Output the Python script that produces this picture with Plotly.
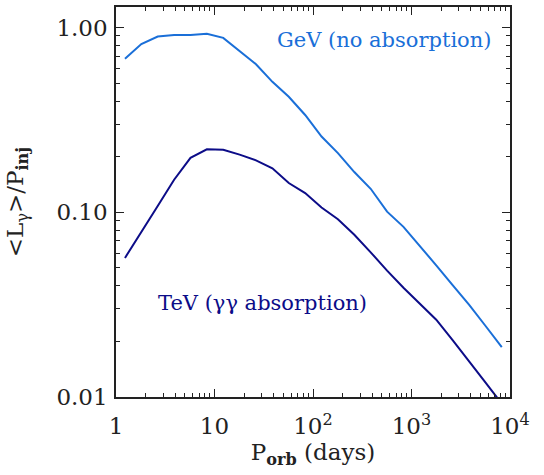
import plotly.graph_objects as go

# Orbital period grid (days)
p_orb = [1.233, 1.808, 2.652, 3.890, 5.705, 8.367, 12.27, 17.99, 26.39, 38.71,
         56.77, 83.27, 122.1, 179.1, 262.7, 385.3, 565.1, 828.8, 1215.6, 1783.0,
         2615.0, 3835.0, 5625.0, 8250.0]

# Mean luminosity over injected power
gev_no_abs = [0.678, 0.813, 0.894, 0.912, 0.912, 0.924, 0.879, 0.743, 0.633, 0.508,
              0.422, 0.336, 0.257, 0.209, 0.165, 0.134, 0.1007, 0.0834, 0.0659, 0.0516,
              0.0403, 0.0316, 0.0243, 0.0186]
tev_gg_abs = [0.0566, 0.0776, 0.108, 0.150, 0.197, 0.219, 0.218, 0.205, 0.191, 0.173,
              0.144, 0.127, 0.106, 0.0916, 0.0755, 0.0607, 0.0483, 0.0390, 0.0320, 0.0262,
              0.0203, 0.0157, 0.0120, 0.0092]

x_tickvals = [1, 10, 100, 1000, 10000]
x_ticktext = ["1", "10", "10<sup>2</sup>", "10<sup>3</sup>", "10<sup>4</sup>"]
y_tickvals = [0.01, 0.1, 1.0]
y_ticktext = ["0.01", "0.10", "1.00"]

GEV_COLOR = "#1a6fd8"
TEV_COLOR = "#0c0c88"
AXIS_COLOR = "#222222"
FONT = "DejaVu Serif, Liberation Serif, serif"

fig = go.Figure()
fig.add_trace(go.Scatter(x=p_orb, y=gev_no_abs, mode="lines",
                         line=dict(color=GEV_COLOR, width=2), showlegend=False))
fig.add_trace(go.Scatter(x=p_orb, y=tev_gg_abs, mode="lines",
                         line=dict(color=TEV_COLOR, width=2), showlegend=False))

def minor_vals(lo_exp, hi_exp):
    return [m * 10 ** e for e in range(lo_exp, hi_exp) for m in range(2, 10)]

axis_common = dict(
    showline=True, linecolor=AXIS_COLOR, linewidth=1.5, mirror="allticks",
    ticks="inside", ticklen=8, tickwidth=1.2, tickcolor=AXIS_COLOR,
    showgrid=False, zeroline=False,
    tickfont=dict(family=FONT, size=23, color=AXIS_COLOR),
)

fig.update_layout(
    width=544, height=475,
    margin=dict(l=116, r=34, t=5, b=78),
    paper_bgcolor="white", plot_bgcolor="white",
    xaxis=dict(type="log", range=[0, 4],
               tickvals=x_tickvals, ticktext=x_ticktext, ticklabelstandoff=8,
               minor=dict(ticks="inside", ticklen=4, tickwidth=1, tickcolor=AXIS_COLOR,
                          tickvals=minor_vals(0, 4), showgrid=False),
               title=dict(text="P<sub><b>orb</b></sub> (days)",
                          font=dict(family=FONT, size=23, color=AXIS_COLOR), standoff=4),
               **axis_common),
    yaxis=dict(type="log", range=[-2, 0.111],
               tickvals=y_tickvals, ticktext=y_ticktext, ticklabelstandoff=2,
               minor=dict(ticks="inside", ticklen=4, tickwidth=1, tickcolor=AXIS_COLOR,
                          tickvals=minor_vals(-2, 1), showgrid=False),
               title=dict(text="&lt;L<sub>γ</sub>&gt;/P<sub><b>inj</b></sub>",
                          font=dict(family=FONT, size=23, color=AXIS_COLOR), standoff=26),
               **axis_common),
    annotations=[
        dict(x=1.61, y=-0.068, xref="x", yref="y", text="GeV (no absorption)",
             showarrow=False, xanchor="left", yanchor="middle",
             font=dict(family=FONT, size=21, color=GEV_COLOR)),
        dict(x=0.406, y=-1.492, xref="x", yref="y", text="TeV (γγ absorption)",
             showarrow=False, xanchor="left", yanchor="middle",
             font=dict(family=FONT, size=21, color=TEV_COLOR)),
    ],
)

fig.write_html("out.html")
